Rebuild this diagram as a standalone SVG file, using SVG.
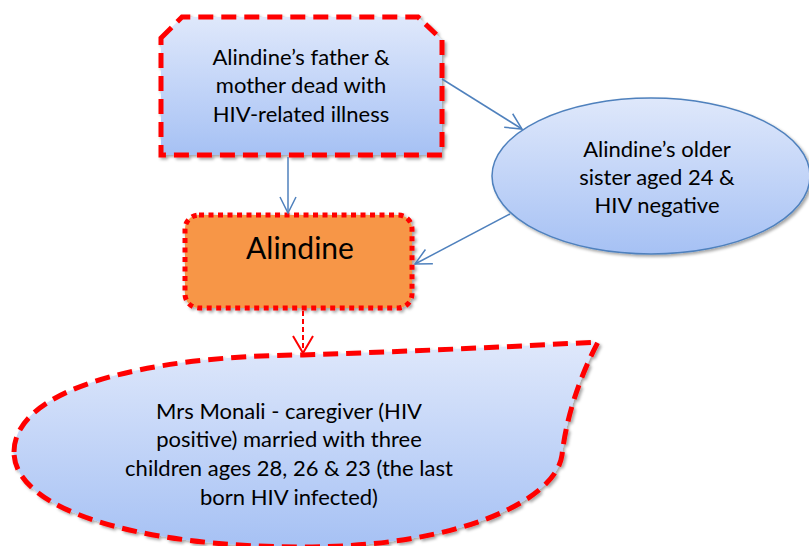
<svg xmlns="http://www.w3.org/2000/svg" width="809" height="546" viewBox="0 0 809 546">
<defs>
<linearGradient id="blueGrad" x1="0" y1="0" x2="0" y2="1">
<stop offset="0" stop-color="#DFE8FB"/>
<stop offset="1" stop-color="#A6C1F4"/>
</linearGradient>
<filter id="shadow" x="-5%" y="-5%" width="115%" height="115%">
<feDropShadow dx="2" dy="2" stdDeviation="1.5" flood-color="#000" flood-opacity="0.35"/>
</filter>
<marker id="arrowBlue" viewBox="0 0 20 20" refX="18" refY="10" markerWidth="20" markerHeight="20" markerUnits="userSpaceOnUse" orient="auto">
<path d="M2,2 L18,10 L2,18" fill="none" stroke="#4F81BD" stroke-width="1.5"/>
</marker>
<marker id="arrowRed" viewBox="0 0 22 22" refX="20" refY="11" markerWidth="22" markerHeight="22" markerUnits="userSpaceOnUse" orient="auto">
<path d="M3,1 L20,11 L3,21" fill="none" stroke="#FF0000" stroke-width="2"/>
</marker>
</defs>
<style>
.txt{font-family:Lato,"Liberation Sans",sans-serif;font-size:22px;fill:#000;text-anchor:middle}
.big{font-size:30px}
.dash{stroke:#FF0000;stroke-width:5;stroke-dasharray:15 8;fill:url(#blueGrad)}
.conn{stroke:#4F81BD;stroke-width:1.5;fill:none}
</style>
<g id="parents">
<path class="dash" filter="url(#shadow)" d="M161,38 L182,17 L418,17 L442,40 L442,155 L161,155 Z"/>
<text class="txt" x="301" y="65">Alindine’s father &amp;</text>
<text class="txt" x="301" y="93">mother dead with</text>
<text class="txt" x="301" y="122">HIV-related illness</text>
</g>
<g id="sister">
<ellipse cx="651" cy="176" rx="159" ry="78" fill="url(#blueGrad)" stroke="#4F81BD" stroke-width="1.5" filter="url(#shadow)"/>
<text class="txt" x="657" y="157">Alindine’s older</text>
<text class="txt" x="657" y="185">sister aged 24 &amp;</text>
<text class="txt" x="657" y="213">HIV negative</text>
</g>
<g id="alindine">
<rect x="185" y="215" width="227" height="93" rx="14" fill="#F79646" stroke="#FF0000" stroke-width="5" stroke-dasharray="5 4.5" filter="url(#shadow)"/>
<text class="txt big" x="300" y="259">Alindine</text>
</g>
<g id="caregiver">
<path class="dash" filter="url(#shadow)" d="M14,452 C14,390 140,356 303,355 Q450,350 598,342 C578,380 566,420 562,455 C556,500 460,547 303,547 C140,547 14,510 14,452 Z"/>
<text class="txt" x="289" y="419">Mrs Monali - caregiver (HIV</text>
<text class="txt" x="289" y="447">positive) married with three</text>
<text class="txt" x="289" y="476">children ages 28, 26 &amp; 23 (the last</text>
<text class="txt" x="289" y="505">born HIV infected)</text>
</g>
<g id="connectors">
<line class="conn" x1="442" y1="79" x2="522" y2="129" marker-end="url(#arrowBlue)"/>
<line class="conn" x1="288" y1="157" x2="288" y2="213" marker-end="url(#arrowBlue)"/>
<line class="conn" x1="510" y1="214" x2="415" y2="264" marker-end="url(#arrowBlue)"/>
<line x1="303" y1="311" x2="303" y2="353" stroke="#FF0000" stroke-width="2" stroke-dasharray="5 3" marker-end="url(#arrowRed)"/>
</g>
</svg>
